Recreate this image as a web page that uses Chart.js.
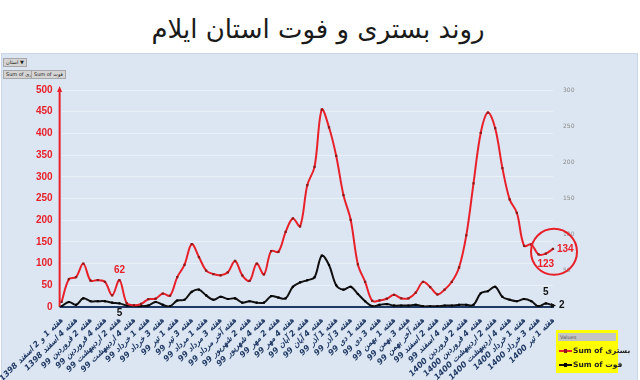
<!DOCTYPE html>
<html><head><meta charset="utf-8">
<script src="https://cdn.jsdelivr.net/npm/chart.js@4"></script>
<style>
html,body{margin:0;padding:0;width:640px;height:380px;overflow:hidden;background:#fff;font-family:"DejaVu Sans",sans-serif}
#title{position:absolute;left:0;top:10px;width:636px;text-align:center;font-size:26px;line-height:38px;color:#1a1a1a;direction:rtl}
#panel{position:absolute;left:1px;top:53px;width:635px;height:326px;background:#dce6f2;border:1px solid #c9d6e8}
canvas{position:absolute;left:0;top:0}
.btn{position:absolute;background:#d4d4d4;border:1px solid #a8a8a8;font-size:5px;line-height:7px;height:7px;padding:0 2px;color:#222;white-space:nowrap}
#legend{position:absolute;left:556px;top:330px;width:62px;height:43px;background:#ffff00}
#legend .hdr{margin:3px 2px 0 2px;height:8px;background:#c4c4c4;font-size:5px;line-height:8px;color:#555;padding-left:2px}
#legend .row{position:absolute;left:3px;font-size:7.5px;font-weight:bold;color:#222;white-space:nowrap;line-height:10px}
#legend .ico{display:inline-block;width:13px;height:2px;vertical-align:middle;position:relative;margin-right:1px}
#legend .ico i{position:absolute;left:5px;top:-1px;width:3px;height:4px}
</style>
</head><body>
<div id="title">روند بستری و فوت استان ایلام</div>
<div id="panel"></div>
<div class="btn" style="left:3px;top:58px"><span>استان</span> <span>▼</span></div>
<div class="btn" style="left:3px;top:70px">Sum of بستری</div>
<div class="btn" style="left:31px;top:70px">Sum of فوت</div>
<canvas id="c" width="640" height="380"></canvas>
<div id="legend">
  <div class="hdr">Values</div>
  <div class="row" style="top:16px"><span class="ico" style="background:#e8202a"><i style="background:#8b1a1a"></i></span>Sum of بستری</div>
  <div class="row" style="top:30px"><span class="ico" style="background:#111"><i style="background:#000"></i></span>Sum of فوت</div>
</div>
<script>
// x-axis tick labels (one every two weeks)
const weekLabels = [
  "هفته 1 و 2 اسفند 1398","هفته 4 اسفند 1398","هفته 2 فروردین 99","هفته 4 فروردین 99",
  "هفته 2 اردیبهشت 99","هفته 4 اردیبهشت 99","هفته 1 خرداد 99","هفته 3 خرداد 99",
  "هفته 1 تیر 99","هفته 3 تیر 99","هفته 1 مرداد 99","هفته 3 مرداد 99",
  "هفته آخر مرداد 99","هفته 2 شهریور 99","هفته 4 شهریور 99","هفته 2 مهر 99",
  "هفته 4 مهر 99","هفته 2 آبان 99","هفته 4 آبان 99","هفته 1 آذر 99",
  "هفته 3 آذر 99","هفته 1 دی 99","هفته 3 دی 99","هفته 1 بهمن 99",
  "هفته 3 بهمن 99","هفته آخر بهمن 99","هفته 2 اسفند 99","هفته 4 اسفند 99",
  "هفته 2 فروردین 1400","هفته 4 فروردین 1400","هفته 2 اردیبهشت 1400","هفته 4 اردیبهشت 1400",
  "هفته 1 خرداد 1400","هفته 3 خرداد 1400","هفته 1 تیر 1400"
];
// Sum of بستری (left axis)
const hospitalized = [
  12,64,69,100,61,62,58,27,62,9,
  4,7,18,19,31,26,69,97,145,115,
  84,76,73,80,106,73,60,100,75,129,
  127,173,204,186,281,323,455,414,348,258,
  201,98,58,14,15,19,28,20,20,33,
  58,46,29,40,58,91,165,285,401,448,
  412,320,248,217,141,144,121,123,134
];
// Sum of فوت (right axis)
const deaths = [
  1,7,3,12,8,8,8,6,5,2,
  2,1,2,7,3,1,9,10,21,24,
  16,10,14,11,12,6,8,6,6,15,
  13,12,28,34,37,41,71,58,30,24,
  28,18,8,1,3,4,2,2,2,3,
  1,1,1,2,2,3,3,3,19,22,
  28,14,10,8,11,8,1,5,2
];
const leftMax = 500, leftStep = 50;
const rightMax = 300, rightStep = 50;

const categories = hospitalized.map((_, i) => i % 2 === 0 ? weekLabels[i / 2] : '');

const RED = '#e8202a', NAVY = '#1f3864';

const decor = {
  id: 'decor',
  beforeDatasetsDraw(chart) {
    const {ctx, chartArea: a} = chart;
    ctx.save();
    const ax = a.left - 2;
    ctx.strokeStyle = RED; ctx.lineWidth = 2;
    ctx.beginPath(); ctx.moveTo(ax, a.bottom); ctx.lineTo(ax, a.top - 1); ctx.stroke();
    ctx.fillStyle = RED;
    ctx.beginPath(); ctx.moveTo(ax, a.top - 4); ctx.lineTo(ax - 2.5, a.top + 2); ctx.lineTo(ax + 2.5, a.top + 2); ctx.closePath(); ctx.fill();
    ctx.strokeStyle = NAVY; ctx.lineWidth = 2;
    ctx.beginPath(); ctx.moveTo(ax, a.bottom); ctx.lineTo(a.right + 1, a.bottom); ctx.stroke();
    ctx.restore();
  },
  afterDatasetsDraw(chart) {
    const {ctx} = chart;
    const xs = chart.scales.x, yl = chart.scales.y, yr = chart.scales.y1;
    const hp = i => ({x: xs.getPixelForValue(i), y: yl.getPixelForValue(hospitalized[i])});
    const dp = i => ({x: xs.getPixelForValue(i), y: yr.getPixelForValue(deaths[i])});
    const n = hospitalized.length - 1;
    ctx.save();
    ctx.font = 'bold 10px "Liberation Sans", sans-serif';
    ctx.textBaseline = 'middle';
    const txt = (t, p, dx, dy, color, align) => { ctx.fillStyle = color; ctx.textAlign = align; ctx.fillText(t, p.x + dx, p.y + dy); };
    txt(String(hospitalized[8]), hp(8), 0, -10, RED, 'center');
    txt(String(deaths[8]), dp(8), 0, 10, '#111', 'center');
    txt(String(hospitalized[n]), hp(n), 4, 0, RED, 'left');
    txt(String(hospitalized[n - 1]), hp(n - 1), 0, 11, RED, 'center');
    txt(String(deaths[n - 1]), dp(n - 1), 0, -11, '#111', 'center');
    txt(String(deaths[n]), dp(n), 6, 0, '#111', 'left');
    const e = dp(n);
    ctx.fillStyle = '#111';
    ctx.beginPath(); ctx.moveTo(e.x + 3, e.y); ctx.lineTo(e.x - 2, e.y - 2.5); ctx.lineTo(e.x - 2, e.y + 2.5); ctx.closePath(); ctx.fill();
    const c = hp(n);
    ctx.strokeStyle = RED; ctx.lineWidth = 2;
    ctx.beginPath(); ctx.arc(c.x + 1, c.y + 3, 23, 0, Math.PI * 2); ctx.stroke();
    ctx.restore();
  }
};

Chart.defaults.font.family = '"DejaVu Sans", sans-serif';

new Chart(document.getElementById('c'), {
  type: 'line',
  data: {
    labels: categories,
    datasets: [
      {label: 'Sum of بستری', data: hospitalized, yAxisID: 'y', borderColor: RED, borderWidth: 2,
       pointStyle: 'rect', pointRadius: 1.6, pointBackgroundColor: '#8b1a1a', pointBorderWidth: 0, tension: 0.35},
      {label: 'Sum of فوت', data: deaths, yAxisID: 'y1', borderColor: '#111', borderWidth: 2,
       pointStyle: 'rect', pointRadius: 1.5, pointBackgroundColor: '#000', pointBorderWidth: 0, tension: 0.35}
    ]
  },
  options: {
    responsive: false, animation: false, devicePixelRatio: 1,
    layout: {padding: {top: 90, left: 0, right: 0, bottom: 0}},
    plugins: {legend: {display: false}, tooltip: {enabled: false}},
    scales: {
      x: {
        type: 'category', offset: false,
        grid: {display: false}, border: {display: false},
        ticks: {autoSkip: false, minRotation: 45, maxRotation: 45, padding: 1, color: NAVY,
                font: {size: 8, weight: 'bold', style: 'italic'}},
        afterFit(s) { s.height = 73; }
      },
      y: {
        position: 'left', min: 0, max: leftMax,
        grid: {color: '#eaf0f8', lineWidth: 1, drawTicks: false}, border: {display: false},
        ticks: {stepSize: leftStep, padding: 9, color: RED, font: {size: 10, weight: 'bold', family: '"Liberation Sans", sans-serif'}},
        afterFit(s) { s.width = 56; }
      },
      y1: {
        position: 'right', min: 0, max: rightMax,
        grid: {display: false, drawTicks: false}, border: {display: false},
        ticks: {stepSize: rightStep, padding: 10, color: '#8a8a8a', font: {size: 6},
                callback: v => v === 0 ? '' : v},
        afterFit(s) { s.width = 87; }
      }
    }
  },
  plugins: [decor]
});
</script>
</body></html>
